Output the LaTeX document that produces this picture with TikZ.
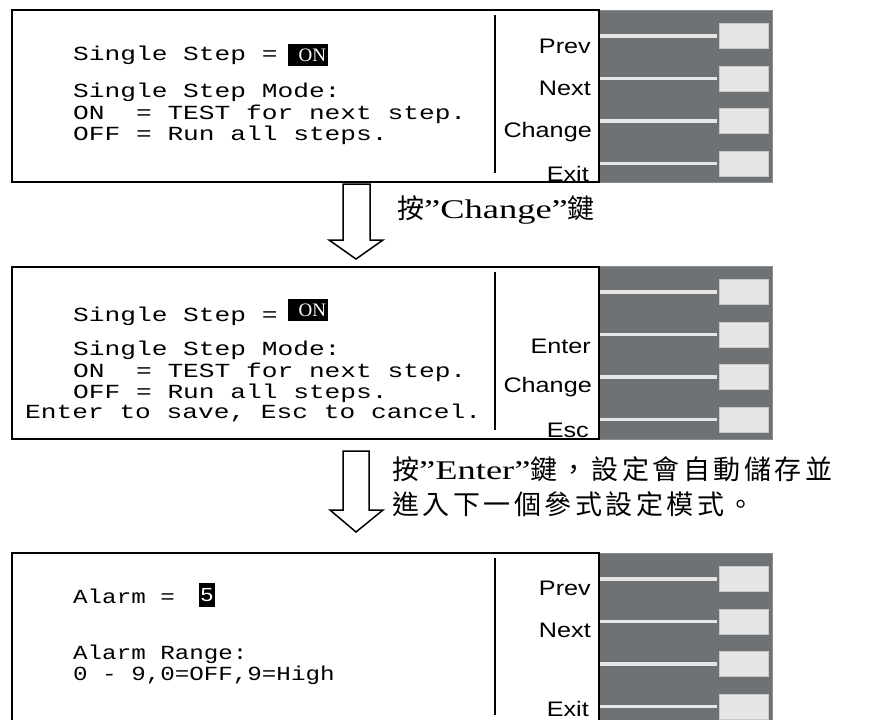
\documentclass[tikz,border=0pt]{standalone}
\usepackage{fontspec}
\newfontfamily\lcdfont[FakeStretch=1.31]{Liberation Mono}
\newfontfamily\lcdfontn[FakeStretch=1.21]{Liberation Mono}
\newfontfamily\keyfont[FakeStretch=1.2]{Liberation Sans}
\newfontfamily\capfont[FakeStretch=1.35]{Liberation Serif}
\newfontfamily\hlfont{Liberation Serif}
\newfontfamily\cjkfont[LetterSpace=13]{Noto Sans CJK TC}
\definecolor{panelgray}{RGB}{110,114,116}
\definecolor{keylight}{RGB}{230,230,230}
\definecolor{keyedge}{RGB}{200,200,200}
\newcommand{\zhtext}[1]{{\cjkfont\fontsize{27}{35}\selectfont #1}}
\newcommand{\entext}[1]{{\capfont\fontsize{27}{35}\selectfont #1}}
% 右側のキー列
\newcommand{\keypanel}[2]{%
  \fill[panelgray, draw=panelgray!80!white] (599,#1) rectangle (772,#2);
  \foreach \k in {0,...,3}{
    \draw[keyline] (599,#1+26+42.5*\k) -- (717,#1+26+42.5*\k);
    \draw[keybtn] (719,#1+13.5+42.5*\k) rectangle (768,#1+38.5+42.5*\k);
  }
}
\tikzset{
  screen/.style={fill=white, draw=black, line width=2pt},
  divider/.style={draw=black, line width=1.5pt},
  keyline/.style={draw=keylight, line width=3.5pt},
  keybtn/.style={fill=keylight, draw=keyedge, line width=1pt},
  lcd/.style={font=\lcdfont\fontsize{20}{20}\selectfont, anchor=base west, inner sep=0pt},
  lcdn/.style={font=\lcdfontn\fontsize{20}{20}\selectfont, anchor=base west, inner sep=0pt},
  keylabel/.style={font=\keyfont\fontsize{21}{21}\selectfont, anchor=base east, inner sep=0pt},
  hlbox/.style={fill=black, text=white, font=\hlfont\fontsize{19}{19}\selectfont,
    inner xsep=2pt, text width=36pt, align=right, minimum height=22pt},
  hlnum/.style={fill=black, text=white, font=\keyfont\fontsize{19}{19}\selectfont,
    inner xsep=2pt, inner ysep=0pt, minimum height=24pt},
  hollowarrow/.style={fill=white, draw=black, line width=1.5pt, line join=miter},
  caption/.style={anchor=base west, inner sep=0pt}
}
\begin{document}
\begin{tikzpicture}[x=1pt, y=-1pt]
  \useasboundingbox (0,0) rectangle (873,720);

  % 画面1
  \keypanel{10}{182}
  \draw[screen] (12,10) rectangle (599,182);
  \draw[divider] (495,15) -- (495,173);
  \node[lcd] (s1a) at (73,60) {Single Step =};
  \node[hlbox] (s1on) at (308,55) {ON};
  \node[lcd] (s1b) at (73,97.7) {Single Step Mode:};
  \node[lcd] (s1c) at (73,119) {ON~~= TEST for next step.};
  \node[lcd] (s1d) at (73,140) {OFF = Run all steps.};
  \node[keylabel] (k1a) at (591,53) {Prev};
  \node[keylabel] (k1b) at (591,95) {Next};
  \node[keylabel] (k1c) at (592,137) {Change};
  \node[keylabel] (k1d) at (589,181) {Exit};

  % 矢印1
  \draw[hollowarrow] (343,184) -- (343,240) -- (329,240) -- (356,259)
    -- (383,240) -- (370,240) -- (370,184) -- cycle;
  \node[caption] (cap1) at (397,218) {\zhtext{按}\entext{”Change”}\zhtext{鍵}};

  % 画面2
  \keypanel{266}{439}
  \draw[screen] (12,267) rectangle (599,439);
  \draw[divider] (495,272) -- (495,430);
  \node[lcd] (s2a) at (73,321) {Single Step =};
  \node[hlbox] (s2on) at (308,310) {ON};
  \node[lcd] (s2b) at (73,355) {Single Step Mode:};
  \node[lcd] (s2c) at (73,377) {ON~~= TEST for next step.};
  \node[lcd] (s2d) at (73,398) {OFF = Run all steps.};
  \node[lcd] (s2e) at (25,418) {Enter to save, Esc to cancel.};
  \node[keylabel] (k2b) at (591,353) {Enter};
  \node[keylabel] (k2c) at (592,392) {Change};
  \node[keylabel] (k2d) at (589,437) {Esc};

  % 矢印2
  \draw[hollowarrow] (343,451) -- (343,510) -- (330,510) -- (356,532)
    -- (383,510) -- (369,510) -- (369,451) -- cycle;
  \node[caption] (cap2a) at (392,479) {\zhtext{按}\entext{”Enter”}\zhtext{鍵，設定會自動儲存並}};
  \node[caption] (cap2b) at (392,514) {\zhtext{進入下一個參式設定模式。}};

  % 画面3
  \keypanel{553}{740}
  \draw[screen] (12,553) rectangle (599,740);
  \draw[divider] (495,558) -- (495,715);
  \node[lcdn] (s3a) at (73,603) {Alarm =};
  \node[hlnum] (s3val) at (207,595) {5};
  \node[lcdn] (s3b) at (73,659) {Alarm Range:};
  \node[lcdn] (s3c) at (73,680) {0 - 9,0=OFF,9=High};
  \node[keylabel] (k3a) at (591,595) {Prev};
  \node[keylabel] (k3b) at (591,637) {Next};
  \node[keylabel] (k3d) at (589,716.5) {Exit};
\end{tikzpicture}
\end{document}
